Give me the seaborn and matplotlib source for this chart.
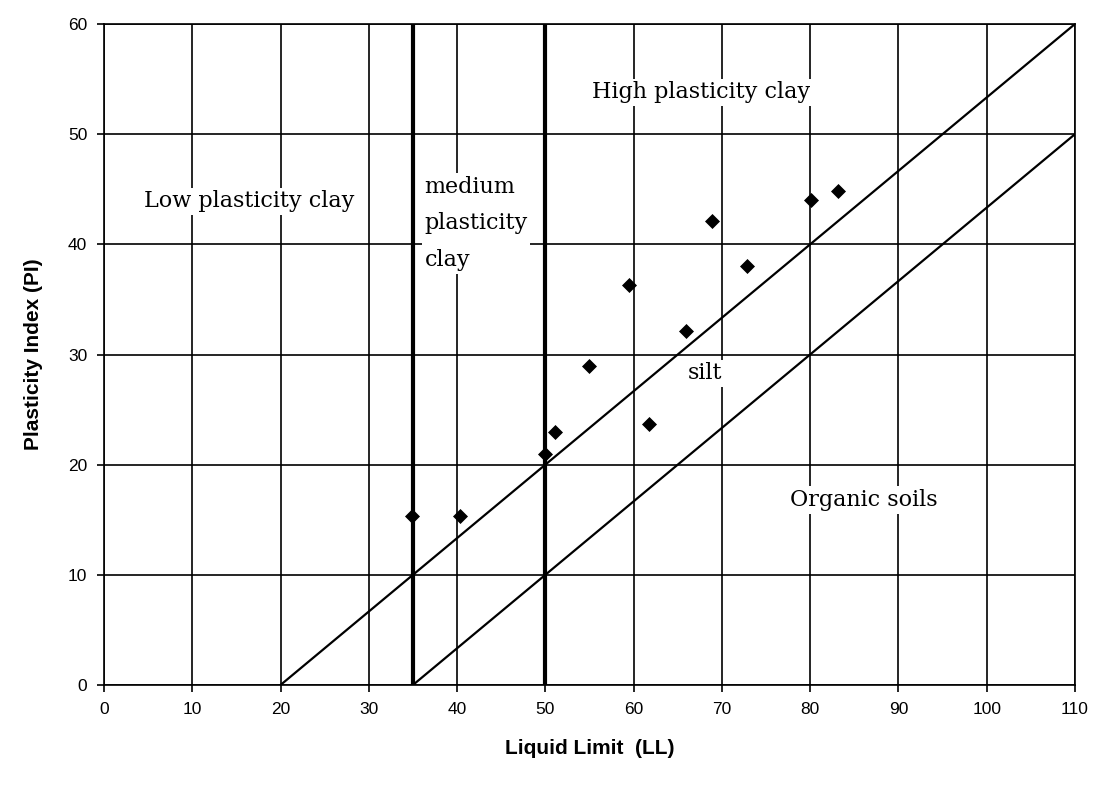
import matplotlib
matplotlib.use("Agg")
import matplotlib.pyplot as plt
import seaborn as sns
import pandas as pd

# Data
ll_values = [34.9, 40.3, 50.0, 51.1, 54.9, 59.5, 61.8, 65.9, 68.9, 72.9, 80.1, 83.2]
pi_values = [15.3, 15.3, 21.0, 23.0, 29.0, 36.3, 23.7, 32.1, 42.1, 38.0, 44.0, 44.8]

upper_line_x = [20, 110]
upper_line_y = [0, 60]
lower_line_x = [35, 110]
lower_line_y = [0, 50]
boundary_x = [35, 50]

x_ticks = list(range(0, 111, 10))
y_ticks = list(range(0, 61, 10))

labels = ["Low plasticity clay", "medium\nplasticity\nclay", "High plasticity clay",
          "silt", "Organic soils"]
label_x = [16.5, 36.3, 67.6, 68.1, 86.1]
label_y = [43.9, 41.9, 53.8, 28.3, 16.8]
label_ha = ["center", "left", "center", "center", "center"]

sns.set_theme(style="white")
plt.rcParams['font.family'] = ['Liberation Sans', 'DejaVu Sans']
plt.rcParams['text.color'] = 'black'
plt.rcParams['axes.labelcolor'] = 'black'
plt.rcParams['xtick.color'] = 'black'
plt.rcParams['ytick.color'] = 'black'

fig = plt.figure(figsize=(10.98, 7.93), dpi=100)
ax = fig.add_axes([0.0947, 0.1362, 0.979 - 0.0947, 0.9697 - 0.1362])

ax.set_xlim(0, 110)
ax.set_ylim(0, 60)
ax.set_xticks(x_ticks)
ax.set_yticks(y_ticks)
ax.grid(True, color="black", linewidth=1.2)
ax.set_axisbelow(True)
for s in ax.spines.values():
    s.set_color("black")
    s.set_linewidth(1.2)

# Regional boundary lines
line_df = pd.DataFrame({"x": upper_line_x + lower_line_x,
                        "y": upper_line_y + lower_line_y,
                        "g": ["a", "a", "b", "b"]})
sns.lineplot(data=line_df, x="x", y="y", units="g", estimator=None,
             color="black", linewidth=1.6, ax=ax, zorder=3)
ax.vlines(boundary_x, 0, 60, colors="black", linewidth=3.0, zorder=3)

df = pd.DataFrame({"LL": ll_values, "PI": pi_values})
sns.scatterplot(data=df, x="LL", y="PI", marker="D", s=50, color="black",
                edgecolor="black", ax=ax, zorder=4, clip_on=False)

for t, x, y, ha in zip(labels, label_x, label_y, label_ha):
    ax.text(x, y, t, ha=ha, va="center", fontsize=16, family="DejaVu Serif",
            linespacing=1.85, zorder=2, color="black",
            bbox=dict(facecolor="white", edgecolor="none", pad=2))

ax.tick_params(axis="both", which="both", direction="out", length=5, width=1.2,
               color="black", labelcolor="black", labelsize=12.5, pad=7,
               bottom=True, left=True)
ax.set_xlabel("Liquid Limit  (LL)", fontsize=15, fontweight="bold", labelpad=16,
              color="black")
ax.set_ylabel("Plasticity Index (PI)", fontsize=15, fontweight="bold", labelpad=18,
              color="black")

fig.savefig("out.png", dpi=100, facecolor="white")
